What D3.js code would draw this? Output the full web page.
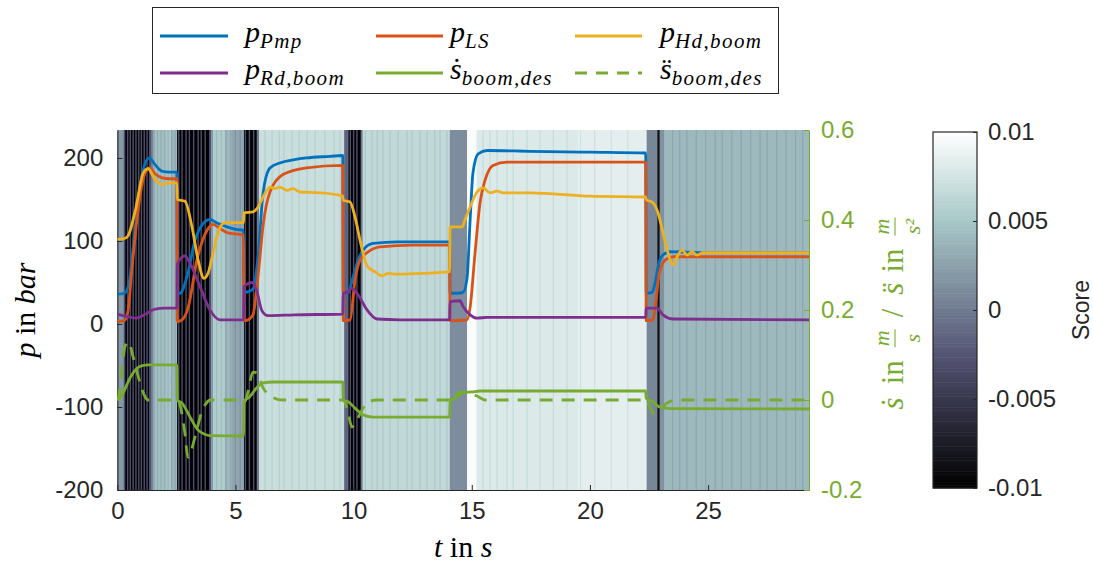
<!DOCTYPE html>
<html>
<head>
<meta charset="utf-8">
<script src="https://cdn.jsdelivr.net/npm/d3@7"></script>
<style>
  body { margin: 0; background: #ffffff; }
  svg { display: block; }
  .tick text { font-family: "Liberation Sans", Arial, Helvetica, sans-serif; }
</style>
</head>
<body>
<svg id="chart" width="1093" height="568"></svg>
<script>
// ---- time range (s) ----
const tEnd = 29.27;

// ---- pressures in bar, [t, p] ----
const pPmp = [[0,36],[0.3,37],[0.5,50],[0.7,100],[0.9,152],[1.1,186],[1.35,200],[1.6,192],[1.9,184],[2.2,183],[2.52,183],
  [2.54,37],[2.65,37],[2.95,57],[3.29,101],[3.63,121],[3.93,126],[4.2,122],[4.64,117],[5.0,114],[5.34,113],
  [5.36,38],[5.55,39],[5.74,42],[5.96,82],[6.17,158],[6.46,188],[6.88,194],[7.5,198],[8.0,200],[9.0,202],[9.54,203],
  [9.56,37],[9.77,38],[9.98,57],[10.19,77],[10.4,89],[10.82,97],[11.84,99],[13.0,99],[14.06,99],
  [14.08,37],[14.4,37],[14.63,38],[14.8,55],[14.93,125],[15.05,182],[15.27,205],[15.65,209],[17.47,208],[20.0,207],[22.36,206],
  [22.38,37],[22.63,38],[22.76,50],[22.88,69],[23.09,83],[23.39,87],[24.79,86],[29.27,86]];

const pLS = [[0,3],[0.3,4],[0.45,15],[0.6,60],[0.85,130],[1.1,175],[1.35,188],[1.6,181],[1.9,176],[2.2,175],[2.52,175],
  [2.54,3],[2.74,5],[3.0,20],[3.37,77],[3.8,113],[4.05,120],[4.3,116],[4.64,110],[5.34,107],
  [5.36,4],[5.53,5],[5.74,11],[5.96,59],[6.17,119],[6.46,159],[7.01,180],[8.0,188],[9.54,191],
  [9.56,4],[9.85,5],[10.06,53],[10.27,77],[10.57,86],[11.12,93],[12.52,95],[14.06,95],
  [14.08,4],[14.8,5],[14.93,20],[15.14,86],[15.35,146],[15.56,173],[15.9,191],[16.49,195],[20,195],[22.36,195],
  [22.38,4],[22.67,5],[22.8,29],[22.93,61],[23.18,77],[23.52,81],[24.79,81],[29.27,81]];

const pHd = [[0,102],[0.3,103],[0.45,106],[0.75,135],[1.1,182],[1.3,187],[1.6,174],[1.9,168],[2.2,170],[2.52,170],
  [2.54,150],[2.86,148],[3.16,117],[3.42,77],[3.67,55],[3.85,62],[4.01,80],[4.26,110],[4.56,122],[5.0,122],[5.34,122],
  [5.36,134],[5.74,135],[5.96,141],[6.17,153],[6.46,165],[6.67,163],[6.88,165],[7.18,161],[7.44,163],[7.73,159],[8.58,158],[9.54,154],
  [9.56,149],[9.85,147],[10.06,129],[10.27,101],[10.57,70],[10.9,63],[11.2,58],[11.46,61],[11.84,60],[13,61],[14.06,63],
  [14.08,117],[14.59,117],[14.71,125],[14.93,141],[15.22,159],[15.48,164],[15.77,158],[16.07,160],[16.33,158],[17.47,158],[20,154],[22.36,153],
  [22.38,150],[22.67,146],[22.88,134],[23.09,110],[23.3,86],[23.52,71],[23.69,81],[23.9,89],[24.11,83],[24.32,87],[24.53,83],[24.79,86],[29.27,86]];

const pRd = [[0,12],[0.4,9],[0.8,7],[1.2,12],[1.6,18],[2.0,19],[2.52,19],
  [2.54,72],[2.86,82],[3.08,73],[3.5,45],[3.92,17],[4.35,5],[5.34,5],
  [5.36,45],[5.7,50],[5.91,39],[6.12,16],[6.38,10],[7.5,11],[9.54,12],
  [9.56,37],[9.77,39],[9.93,43],[10.19,35],[10.57,17],[10.99,6],[12,5],[14.06,5],
  [14.08,27],[14.5,28],[14.63,21],[14.93,11],[15.22,7],[15.65,8],[22.36,8],
  [22.38,19],[22.84,19],[23.09,11],[23.52,6],[29.27,5]];

// ---- boom reference: velocity (m/s) and acceleration (m/s^2), [t, value] ----
const sDotDes = [[0,0],[0.1,0.003],[0.24,0.015],[0.54,0.049],[0.84,0.071],[1.1,0.077],[1.3,0.078],[2.52,0.078],
  [2.54,0],[2.74,-0.007],[3.08,-0.038],[3.42,-0.067],[3.7,-0.076],[3.92,-0.079],[5.34,-0.08],
  [5.36,-0.003],[5.6,0.007],[5.9,0.027],[6.17,0.038],[6.6,0.04],[9.54,0.04],
  [9.56,0],[9.77,-0.004],[10.06,-0.018],[10.4,-0.033],[10.82,-0.038],[14.06,-0.038],
  [14.08,-0.004],[14.38,0.007],[14.63,0.016],[15.01,0.018],[15.35,0.02],[22.36,0.02],
  [22.38,0.004],[22.67,-0.004],[22.97,-0.016],[23.39,-0.019],[29.27,-0.02]];

const sDDotDes = [[0,0],[0.1,0.02],[0.2,0.067],[0.32,0.118],[0.46,0.129],[0.7,0.09],[0.95,0.04],[1.15,0.01],[1.3,0],[2.52,0],
  [2.55,0],[2.85,-0.07],[2.99,-0.127],[3.3,-0.08],[3.55,-0.03],[3.75,-0.008],[3.95,0],[5.34,0],
  [5.4,-0.004],[5.53,0.018],[5.74,0.062],[5.91,0.06],[6.17,0.027],[6.55,0.007],[7.0,0],[9.54,0],
  [9.56,0],[9.77,-0.029],[9.93,-0.06],[10.14,-0.044],[10.36,-0.022],[10.61,-0.004],[10.99,0],[14.06,0],
  [14.1,-0.004],[14.29,0.007],[14.5,0.018],[14.8,0.016],[15.01,0.013],[15.22,0.009],[15.56,0],[22.36,0],
  [22.38,0],[22.54,-0.015],[22.67,-0.029],[22.97,-0.022],[23.26,-0.007],[23.69,0],[29.27,0]];

// ---- score background: piecewise-constant score from each start time to the next ----
const scoreT = [0, 0.07, 0.28, 1.34, 1.42, 1.50, 1.60, 2.05, 2.30, 2.53, 3.88, 3.97, 4.05, 4.55, 4.85, 5.36, 5.90, 6.00,
  9.60, 9.78, 10.30, 10.38, 14.07, 14.80, 15.20, 19.50, 22.40, 22.85, 22.95, 23.15];
const scoreV = [0.0005, 0.002, -0.01, -0.003, 0.0, 0.003, 0.0045, 0.005, 0.004, -0.01, -0.003, 0.002, 0.0055, 0.004, 0.0028, -0.01, 0.0, 0.007,
  -0.0015, -0.01, 0.0, 0.0065, 0.0012, 0.0097, 0.008, 0.0085, 0.0008, -0.0085, 0.0015, 0.0041];
// lighter samples inside the low-score stretches
const stripeT = [0.31, 0.44, 0.55, 0.67, 0.79, 0.91, 1.02, 1.14, 1.26,
  2.60, 2.74, 2.91, 3.05, 3.23, 3.42, 3.55, 3.72,
  5.42, 5.59, 5.77,
  9.86, 10.00, 10.14];
const stripeScore = -0.003;
// slightly lower-score samples inside the high-score stretches
const textureT = [1.70, 1.85, 2.00, 2.15, 2.30, 2.45,
  4.20, 4.40, 4.60, 4.80, 5.00, 5.20,
  6.25, 6.55, 6.85, 7.05, 7.39, 7.69, 8.03, 8.37, 8.79, 9.17, 9.43,
  10.50, 10.78, 11.00, 11.24, 11.54, 11.88, 12.26, 12.47, 12.81, 13.10, 13.44, 13.66, 13.95,
  15.48, 15.77, 16.07, 16.49, 16.75, 17.34, 17.89, 18.45, 19.03, 19.60, 20.20, 20.90, 21.60,
  23.50, 23.80, 24.10, 24.50, 24.90, 25.30, 25.60, 26.00, 26.40, 26.80, 27.20, 27.50, 27.90, 28.30, 28.70, 29.00];
const textureDrop = 0.0013;

// ---- axis ticks ----
const tTicks = [0, 5, 10, 15, 20, 25];
const pTicks = [-200, -100, 0, 100, 200];
const sTicks = [-0.2, 0, 0.2, 0.4, 0.6];
const scoreTicks = [-0.01, -0.005, 0, 0.005, 0.01];

// ---- colours ----
const cBlue = "#0072BD", cOrange = "#D95319", cYellow = "#EDB120", cPurple = "#7E2F8E", cGreen = "#77AC30";
const axisGrey = "#262626";

// bone colormap: (7*gray + reversed hot) / 8
function bone(u) {
  u = Math.max(0, Math.min(1, u));
  const cl = v => Math.max(0, Math.min(1, v));
  const hr = cl(u / 0.375), hg = cl((u - 0.375) / 0.375), hb = cl((u - 0.75) / 0.25);
  return d3.rgb(255 * (7 * u + hb) / 8, 255 * (7 * u + hg) / 8, 255 * (7 * u + hr) / 8).toString();
}

const svg = d3.select("#chart");
const plot = { l: 117.3, r: 809, t: 130, b: 490 };

const x = d3.scaleLinear().domain([0, tEnd]).range([plot.l, plot.r]);
const yL = d3.scaleLinear().domain([-200, 233.7]).range([plot.b, plot.t]);
const yR = d3.scaleLinear().domain([-0.2, 0.6]).range([plot.b, plot.t]);
const scoreScale = d3.scaleLinear().domain([-0.01, 0.01]).range([0, 1]).clamp(true);
const scoreColor = s => bone(scoreScale(s));

svg.append("defs").append("clipPath").attr("id", "plotClip")
  .append("rect").attr("x", plot.l).attr("y", plot.t).attr("width", plot.r - plot.l).attr("height", plot.b - plot.t);

// ---- score background ----
const bg = svg.append("g").attr("clip-path", "url(#plotClip)");
const bands = scoreT.map((t0, i) => ({ t0, t1: i + 1 < scoreT.length ? scoreT[i + 1] : tEnd, v: scoreV[i] }));
const scoreAt = t => { const i = d3.bisectRight(scoreT, t) - 1; return scoreV[Math.max(0, i)]; };
bg.selectAll("rect.band").data(bands).join("rect").attr("class", "band")
  .attr("x", d => x(d.t0)).attr("width", d => x(d.t1) - x(d.t0) + 0.4)
  .attr("y", plot.t).attr("height", plot.b - plot.t)
  .attr("fill", d => scoreColor(d.v));
bg.selectAll("rect.texture").data(textureT).join("rect").attr("class", "texture")
  .attr("x", d => x(d) - 0.6).attr("width", 1.2)
  .attr("y", plot.t).attr("height", plot.b - plot.t)
  .attr("fill", d => scoreColor(scoreAt(d) - textureDrop));
bg.selectAll("rect.stripe").data(stripeT).join("rect").attr("class", "stripe")
  .attr("x", d => x(d) - 0.7).attr("width", 1.4)
  .attr("y", plot.t).attr("height", plot.b - plot.t)
  .attr("fill", scoreColor(stripeScore));

// ---- axes ----
const fontTick = 24;
const xAxis = svg.append("g").attr("transform", `translate(0,${plot.b})`)
  .call(d3.axisBottom(x).tickValues(tTicks).tickFormat(d3.format("d")).tickSizeInner(-5).tickSizeOuter(0).tickPadding(12));
const yAxisL = svg.append("g").attr("transform", `translate(${plot.l},0)`)
  .call(d3.axisLeft(yL).tickValues(pTicks).tickFormat(d => String(d)).tickSizeInner(-5).tickSizeOuter(0).tickPadding(14));
const yAxisR = svg.append("g").attr("transform", `translate(${plot.r},0)`)
  .call(d3.axisRight(yR).tickValues(sTicks).tickFormat(d => String(d)).tickSizeInner(-5).tickSizeOuter(0).tickPadding(12));
[xAxis, yAxisL].forEach(a => {
  a.select(".domain").attr("stroke", axisGrey).attr("stroke-width", 1);
  a.selectAll(".tick line").attr("stroke", axisGrey);
  a.selectAll(".tick text").attr("fill", axisGrey).attr("font-size", fontTick);
});
yAxisR.select(".domain").attr("stroke", cGreen).attr("stroke-width", 1);
yAxisR.selectAll(".tick line").attr("stroke", cGreen);
yAxisR.selectAll(".tick text").attr("fill", cGreen).attr("font-size", fontTick);

// ---- series ----
const lines = svg.append("g").attr("clip-path", "url(#plotClip)");
const lineL = d3.line().x(d => x(d[0])).y(d => yL(d[1])).curve(d3.curveMonotoneX);
const lineR = d3.line().x(d => x(d[0])).y(d => yR(d[1])).curve(d3.curveMonotoneX);
const series = [
  { data: pPmp, gen: lineL, color: cBlue },
  { data: pLS, gen: lineL, color: cOrange },
  { data: pHd, gen: lineL, color: cYellow },
  { data: pRd, gen: lineL, color: cPurple },
  { data: sDotDes, gen: lineR, color: cGreen },
  { data: sDDotDes, gen: lineR, color: cGreen, dash: "13,9" }
];
series.forEach(s => {
  lines.append("path").attr("d", s.gen(s.data)).attr("fill", "none")
    .attr("stroke", s.color).attr("stroke-width", 2.8).attr("stroke-linejoin", "round")
    .attr("stroke-dasharray", s.dash || null);
});

// ---- math-style text helper: items laid out left to right, optional gap after each ----
const serif = "'Liberation Serif', 'Times New Roman', serif";
const NBSP = "\u00A0";
function mathRow(parent, items, x0, y0, anchor) {
  const g = parent.append("g").attr("font-family", serif);
  let cx = 0;
  items.forEach(it => {
    if (it.frac) {
      const num = g.append("text").attr("font-size", it.size).attr("font-style", "italic").attr("fill", it.color).text(it.frac[0]);
      const den = g.append("text").attr("font-size", it.size).attr("font-style", "italic").attr("fill", it.color).text(it.frac[1]);
      const w = Math.max(num.node().getComputedTextLength(), den.node().getComputedTextLength()) + 4;
      num.attr("x", cx + w / 2).attr("y", -it.up).attr("text-anchor", "middle");
      den.attr("x", cx + w / 2).attr("y", it.down).attr("text-anchor", "middle");
      g.append("line").attr("x1", cx + 1).attr("x2", cx + w - 1).attr("y1", -it.bar).attr("y2", -it.bar)
        .attr("stroke", it.color).attr("stroke-width", 1.1);
      cx += w;
    } else {
      const t = g.append("text").attr("x", cx).attr("y", it.dy || 0).attr("font-size", it.size)
        .attr("font-style", it.it ? "italic" : "normal").attr("fill", it.color)
        .attr("letter-spacing", it.ls || null).text(it.s.replace(/ /g, NBSP));
      const w = t.node().getComputedTextLength();
      if (it.acc) {
        g.append("text").attr("x", cx + w / 2 + (it.accDx || 0)).attr("y", it.dy || 0).attr("text-anchor", "middle")
          .attr("font-size", it.size).attr("fill", it.color).text(it.acc);
      }
      cx += w;
    }
    cx += it.gap || 0;
  });
  const off = anchor === "middle" ? -cx / 2 : anchor === "end" ? -cx : 0;
  g.attr("transform", `translate(${x0 + off},${y0})`);
  return g;
}

// axis titles
const black = "#000000";
mathRow(svg, [
  { s: "t", it: true, size: 30, color: black },
  { s: " in ", size: 30, color: black },
  { s: "s", it: true, size: 30, color: black }
], (plot.l + plot.r) / 2, 557, "middle");

const yTitle = svg.append("g").attr("transform", "translate(35,310) rotate(-90)");
mathRow(yTitle, [
  { s: "p", it: true, size: 30, color: black },
  { s: " in ", size: 30, color: black },
  { s: "bar", it: true, size: 30, color: black }
], 0, 0, "middle");

const rTitle = svg.append("g").attr("transform", "translate(903,313) rotate(-90)");
mathRow(rTitle, [
  { s: "s", it: true, size: 31, color: cGreen, acc: "\u02D9", accDx: 1, gap: 13 },
  { s: "in", size: 31, color: cGreen, gap: 12 },
  { frac: ["m", "s"], size: 22, up: 14, down: 17, bar: 8, color: cGreen, gap: 11 },
  { s: "/", size: 31, color: cGreen, gap: 14 },
  { s: "s", it: true, size: 31, color: cGreen, acc: "\u00A8", accDx: 1, gap: 10 },
  { s: "in", size: 31, color: cGreen, gap: 12 },
  { frac: ["m", "s\u00B2"], size: 22, up: 14, down: 17, bar: 8, color: cGreen }
], 0, 0, "middle");

// ---- colorbar ----
const cb = { l: 933, r: 977, t: 132, b: 488 };
const cbY = d3.scaleLinear().domain([-0.01, 0.01]).range([cb.b, cb.t]);
const nSteps = 128;
const cbSteps = d3.range(nSteps).map(i => -0.01 + (i + 0.5) * 0.02 / nSteps);
svg.append("g").selectAll("rect").data(cbSteps).join("rect")
  .attr("x", cb.l).attr("width", cb.r - cb.l)
  .attr("y", d => cbY(d + 0.01 / nSteps)).attr("height", (cb.b - cb.t) / nSteps + 0.5)
  .attr("fill", d => scoreColor(d));
svg.append("rect").attr("x", cb.l).attr("y", cb.t).attr("width", cb.r - cb.l).attr("height", cb.b - cb.t)
  .attr("fill", "none").attr("stroke", axisGrey).attr("stroke-width", 1.2);
const cbAxis = svg.append("g").attr("transform", `translate(${cb.r},0)`)
  .call(d3.axisRight(cbY).tickValues(scoreTicks).tickFormat(d => String(d)).tickSizeInner(-4).tickSizeOuter(0).tickPadding(11));
cbAxis.select(".domain").remove();
cbAxis.selectAll(".tick line").attr("stroke", axisGrey);
cbAxis.selectAll(".tick text").attr("fill", axisGrey).attr("font-size", fontTick);
svg.append("text").attr("transform", "translate(1089,310) rotate(-90)").attr("text-anchor", "middle")
  .attr("font-family", "'Liberation Sans', Arial, sans-serif").attr("font-size", 23).attr("fill", axisGrey).text("Score");

// ---- legend ----
const legend = svg.append("g");
legend.append("rect").attr("x", 152.5).attr("y", 7.5).attr("width", 626).attr("height", 86)
  .attr("fill", "#ffffff").attr("stroke", axisGrey).attr("stroke-width", 1);
const legendItems = [
  { color: cBlue, main: "p", sub: "Pmp", col: 0, row: 0 },
  { color: cOrange, main: "p", sub: "LS", col: 1, row: 0 },
  { color: cYellow, main: "p", sub: "Hd,boom", col: 2, row: 0 },
  { color: cPurple, main: "p", sub: "Rd,boom", col: 0, row: 1 },
  { color: cGreen, main: "s", acc: "\u02D9", sub: "boom,des", col: 1, row: 1 },
  { color: cGreen, main: "s", acc: "\u00A8", sub: "boom,des", col: 2, row: 1, dash: "12,9" }
];
const colLine = [[160, 228], [376, 443], [575, 642]];
const colText = [245, 450, 660];
const rowY = [36, 73];
legendItems.forEach(it => {
  const [x1, x2] = colLine[it.col];
  const y = rowY[it.row];
  legend.append("line").attr("x1", x1).attr("x2", x2).attr("y1", y).attr("y2", y)
    .attr("stroke", it.color).attr("stroke-width", 2.8).attr("stroke-dasharray", it.dash || null);
  mathRow(legend, [
    { s: it.main, it: true, size: 30, color: black, acc: it.acc, accDx: 1 },
    { s: it.sub, it: true, size: 21, dy: 6, ls: 1.4, color: black }
  ], colText[it.col], y + 6, "start");
});
</script>
</body>
</html>
